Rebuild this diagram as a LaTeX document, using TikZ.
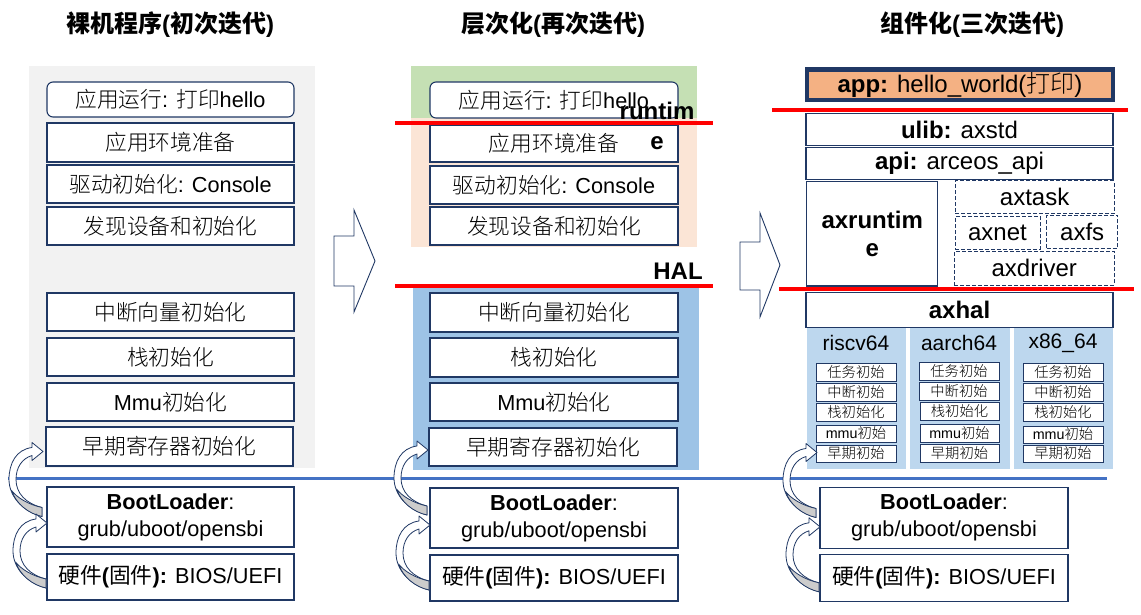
\documentclass[tikz,border=0pt]{standalone}
\usepackage{fontspec}
\setmainfont{Liberation Sans}
\IfFontExistsTF{FandolSong-Regular.otf}
  {\newfontfamily\songfont{FandolSong-Regular.otf}[BoldFont=FandolSong-Bold.otf]}
  {\IfFontExistsTF{FandolSong}
    {\newfontfamily\songfont{FandolSong}}
    {\IfFontExistsTF{Noto Sans CJK SC Light}
      {\newfontfamily\songfont{Noto Sans CJK SC Light}}
      {\newfontfamily\songfont{Noto Sans CJK SC}}}}
\newfontfamily\heifont{Noto Sans CJK SC}
\newcommand\zh[1]{{\songfont #1}}
\newcommand\zt[1]{{\heifont\bfseries #1}}
\usetikzlibrary{calc}

\definecolor{boxline}{HTML}{203864}
\definecolor{bggray}{HTML}{F2F2F2}
\definecolor{bggreen}{HTML}{C5E0B4}
\definecolor{bgpeach}{HTML}{FBE5D6}
\definecolor{bgblue}{HTML}{9DC3E6}
\definecolor{bglight}{HTML}{BDD7EE}
\definecolor{appfill}{HTML}{F4B183}
\definecolor{sepblue}{HTML}{4472C4}
\definecolor{sepred}{HTML}{FF0000}

% box from corner (x1,y1) to (x2,y2), in pixel-like units
\newcommand\bx[6][]{\node[#1,minimum width={#4-#2},minimum height={#5-#3}] at ({(#2+#4)/2},{(#3+#5)/2}) {#6};}

\tikzset{
  base/.style={inner sep=0pt, outer sep=0pt, align=center, text=black},
  sbox/.style={base, draw=boxline, line width=1.1pt, fill=white, font=\fontsize{21.7}{27}\selectfont},
  rbox/.style={sbox, rounded corners=6pt},
  cbox/.style={sbox, font=\fontsize{24}{28}\selectfont},
  dbox/.style={cbox, dash pattern=on 4pt off 2pt, line width=1pt},
  minibox/.style={sbox, line width=1pt, font=\fontsize{14.3}{16}\selectfont},
  appbox/.style={cbox, fill=appfill, line width=4.5pt},
  archlabel/.style={base, font=\fontsize{21}{24}\selectfont},
  title/.style={base, font=\fontsize{24}{28}\selectfont},
  tag/.style={base, font=\fontsize{24}{30}\selectfont\bfseries},
  redline/.style={draw=sepred, line width=3.5pt},
  blueline/.style={draw=sepblue, line width=3pt},
  blockarrow/.style={draw=boxline, fill=white, line width=0.9pt, line join=miter},
  bootarrow/.pic={
    \filldraw[fill=white, draw=boxline, line width=0.8pt, line join=round]
      (0,0) -- (-11,-9) -- (-11,-4)
      .. controls (-27,-2) and (-34,12) .. (-34,28)
      .. controls (-34,45) and (-20,60) .. (-1,65)
      -- (-1,56)
      .. controls (-17,52) and (-27,42) .. (-27,28)
      .. controls (-27,16) and (-21,7) .. (-11,4)
      -- (-11,9) -- cycle;
    \filldraw[fill=gray!40, draw=boxline, line width=0.8pt, line join=round]
      (-1,56) .. controls (-15,53) and (-26,46) .. (-31.5,39)
      .. controls (-27,52) and (-15,62) .. (-1,65) -- cycle;
  }
}

\begin{document}
\begin{tikzpicture}[x=1pt,y=-1pt]
\useasboundingbox (0,0) rectangle (1141,615);

% ---------- titles ----------
\node[title] (t1) at (170,25) {\zt{裸机程序}\textbf{(}\zt{初次迭代}\textbf{)}};
\node[title] (t2) at (553,25) {\zt{层次化}\textbf{(}\zt{再次迭代}\textbf{)}};
\node[title] (t3) at (972,25) {\zt{组件化}\textbf{(}\zt{三次迭代}\textbf{)}};

% ---------- backgrounds ----------
\fill[bggray] (29,66) rectangle (315,468);
\fill[bggreen] (411,66) rectangle (697,118);
\fill[bgpeach] (411,118) rectangle (697,247);
\fill[bgblue] (413,287) rectangle (699,470);
\fill[bglight] (807,327) rectangle (906,469);
\fill[bglight] (910,327) rectangle (1010,469);
\fill[bglight] (1014,327) rectangle (1113,469);

% ---------- column 1: bare-metal program ----------
\bx[rbox,name=c1a]{47}{82}{294}{117}{\zh{应用运行}: \zh{打印}hello}
\bx[sbox,name=c1b]{47}{123}{294}{162}{\zh{应用环境准备}}
\bx[sbox,name=c1c]{47}{165}{294}{203}{\zh{驱动初始化}: Console}
\bx[sbox,name=c1d]{47}{207}{294}{245}{\zh{发现设备和初始化}}
\bx[sbox,name=c1e]{47}{293}{294}{331}{\zh{中断向量初始化}}
\bx[sbox,name=c1f]{47}{338}{294}{376}{\zh{栈初始化}}
\bx[sbox,name=c1g]{47}{383}{294}{421}{Mmu\zh{初始化}}
\bx[sbox,name=c1h]{46}{427}{293}{466}{\zh{早期寄存器初始化}}
\bx[sbox,name=c1i]{47}{487}{294}{547}{\textbf{BootLoader}:\\grub/uboot/opensbi}
\bx[sbox,name=c1j]{47}{554}{294}{600}{{\heifont 硬件}\textbf{(}{\heifont 固件}\textbf{):} BIOS/UEFI}

% ---------- column 2: layered ----------
\bx[rbox,name=c2a]{430}{82}{678}{118}{\zh{应用运行}: \zh{打印}hello}
\bx[sbox,name=c2b]{430}{125}{678}{162}{\zh{应用环境准备}}
\bx[sbox,name=c2c]{430}{166}{678}{204}{\zh{驱动初始化}: Console}
\bx[sbox,name=c2d]{430}{207}{678}{245}{\zh{发现设备和初始化}}
\bx[sbox,name=c2e]{430}{293}{678}{332}{\zh{中断向量初始化}}
\bx[sbox,name=c2f]{430}{338}{678}{377}{\zh{栈初始化}}
\bx[sbox,name=c2g]{430}{383}{678}{421}{Mmu\zh{初始化}}
\bx[sbox,name=c2h]{429}{428}{677}{466}{\zh{早期寄存器初始化}}
\bx[sbox,name=c2i]{430}{488}{678}{548}{\textbf{BootLoader}:\\grub/uboot/opensbi}
\bx[sbox,name=c2j]{430}{555}{678}{601}{{\heifont 硬件}\textbf{(}{\heifont 固件}\textbf{):} BIOS/UEFI}

\draw[redline] (395,123) -- (713,123);
\draw[redline] (395,286) -- (713,286);
\node[tag] (rt) at (657,126) {runtim\\e};
\node[tag] (hal) at (678,271) {HAL};

% ---------- column 3: componentized ----------
\bx[appbox,name=app]{806.8}{69.7}{1113.2}{100.2}{\textbf{app:} hello\_world(\zh{打印})}
\draw[redline] (772,110) -- (1128,110);
\bx[cbox,name=ulib]{806}{113.3}{1113}{145.7}{\textbf{ulib:} axstd}
\bx[cbox,name=api]{806}{147.7}{1113}{179.3}{\textbf{api:} arceos\_api}
\bx[cbox,name=axrt]{806.7}{181.7}{937.7}{286}{\textbf{axruntim}\\\textbf{e}}
\bx[dbox,name=axtask]{955}{181}{1114.3}{213.3}{axtask}
\bx[dbox,name=axnet]{955}{216.7}{1040}{249.3}{axnet}
\bx[dbox,name=axfs]{1046.7}{215}{1117.7}{248.3}{axfs}
\bx[dbox,name=axdrv]{954.3}{251.7}{1114.3}{285}{axdriver}
\draw[redline] (779,289) -- (1134,289);
\bx[cbox,name=axhal]{806}{292.5}{1113}{327.3}{\textbf{axhal}}

\node[archlabel] (rv) at (856,343) {riscv64};
\node[archlabel] (aa) at (959,343) {aarch64};
\node[archlabel] (xx) at (1063,343) {x86\_64};

\bx[minibox,name=rv1]{816}{363}{896}{381}{\zh{任务初始}}
\bx[minibox,name=rv2]{816}{383}{896}{401}{\zh{中断初始}}
\bx[minibox,name=rv3]{816}{403}{896}{421}{\zh{栈初始化}}
\bx[minibox,name=rv4]{816}{425}{896}{442}{mmu\zh{初始}}
\bx[minibox,name=rv5]{816}{445}{896}{462}{\zh{早期初始}}

\bx[minibox,name=aa1]{919}{362}{999}{380}{\zh{任务初始}}
\bx[minibox,name=aa2]{919}{382}{999}{400}{\zh{中断初始}}
\bx[minibox,name=aa3]{920}{402}{999}{420}{\zh{栈初始化}}
\bx[minibox,name=aa4]{920}{424}{999}{442}{mmu\zh{初始}}
\bx[minibox,name=aa5]{920}{444}{999}{462}{\zh{早期初始}}

\bx[minibox,name=xx1]{1023}{363}{1103}{381}{\zh{任务初始}}
\bx[minibox,name=xx2]{1023}{383}{1103}{401}{\zh{中断初始}}
\bx[minibox,name=xx3]{1023}{403}{1103}{421}{\zh{栈初始化}}
\bx[minibox,name=xx4]{1023}{426}{1103}{443}{mmu\zh{初始}}
\bx[minibox,name=xx5]{1023}{445}{1103}{462}{\zh{早期初始}}

\bx[sbox,name=c3i]{820}{487.3}{1068}{548.3}{\textbf{BootLoader}:\\grub/uboot/opensbi}
\bx[sbox,name=c3j]{820}{554.3}{1068}{601.5}{{\heifont 硬件}\textbf{(}{\heifont 固件}\textbf{):} BIOS/UEFI}

% ---------- boot boundary ----------
\draw[blueline] (8,478) -- (1107,478);

% ---------- boot hand-over arrows ----------
\pic at ($(c1h.west)+(-3,5)$) {bootarrow};
\pic at ($(c1i.west)+(0,6)$) {bootarrow};
\pic at ($(c2h.west)+(-1,3)$) {bootarrow};
\pic at ($(c2i.west)+(0,7)$) {bootarrow};
\pic at ($(rv5.west)+(1,-1)$) {bootarrow};
\pic at ($(c3i.west)+(0,9)$) {bootarrow};

% ---------- iteration arrows ----------
\draw[blockarrow] (334,236) -- (354,236) -- (354,210) -- (375,261) -- (354,312) -- (354,286) -- (334,286) -- cycle;
\draw[blockarrow] (740,242) -- (760,242) -- (760,213) -- (780,265) -- (760,317) -- (760,290) -- (740,290) -- cycle;

\end{tikzpicture}
\end{document}
